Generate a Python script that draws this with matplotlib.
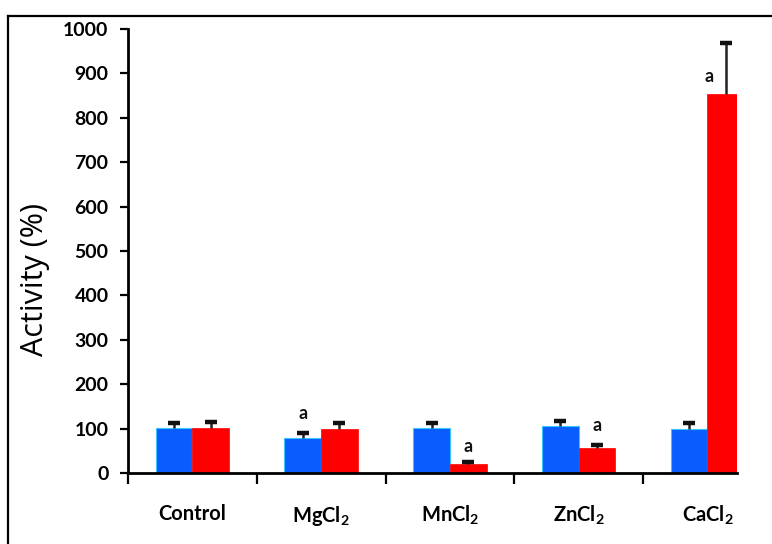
import matplotlib
matplotlib.use("Agg")
import matplotlib.pyplot as plt
from matplotlib.lines import Line2D
import numpy as np

# Data: relative activity (%) with upper error
categories = ["Control", "MgCl$_2$", "MnCl$_2$", "ZnCl$_2$", "CaCl$_2$"]
blue_vals = [101, 79, 101, 106, 99]
blue_err = [11, 11, 11, 11, 13]
red_vals = [101, 99, 20, 56, 853]
red_err = [14, 13, 5, 7, 115]
# significance marks: (category index, series, label height)
marks = [(1, "blue", 135), (2, "red", 60), (3, "red", 108), (4, "red", 893)]

plt.rcParams["font.family"] = ["Lato", "DejaVu Sans"]
plt.rcParams["mathtext.fontset"] = "custom"
plt.rcParams["mathtext.rm"] = "Lato:bold"
plt.rcParams["mathtext.it"] = "Lato:bold"
plt.rcParams["mathtext.bf"] = "Lato:bold"

fig = plt.figure(figsize=(7.72, 5.44), dpi=100)
ax = fig.add_axes([0.1658, 0.1305, 0.7889, 0.8162])

x = np.arange(len(categories))
w = 0.285
xb = x - w / 2
xr = x + w / 2
ax.bar(xb, blue_vals, w, color="#0a5cff", edgecolor="#35c8ff",
       linewidth=0.8, zorder=2)
ax.bar(xr, red_vals, w, color="#ff0000", edgecolor="#ff0000",
       linewidth=0.5, zorder=2)

# upper error bars only
for xs, vals, errs in [(xb, blue_vals, blue_err), (xr, red_vals, red_err)]:
    tops = np.array(vals) + np.array(errs)
    ax.vlines(xs, vals, tops, color="#222222", lw=1.8, zorder=3)
    ax.plot(xs, tops, ls="none", marker="_", ms=9, mew=3.2,
            color="#111111", zorder=3)

for i, series, h in marks:
    xo = xb[i] if series == "blue" else xr[i]
    if i == 4:
        xo -= 0.13
    ax.text(xo, h, "a", ha="center", va="center", fontsize=13,
            fontweight="bold", color="#111111")

ax.set_xlim(-0.5, 4.23)
ax.set_ylim(0, 1000)
ax.set_yticks(range(0, 1001, 100))
ax.set_yticklabels([str(v) for v in range(0, 1001, 100)],
                   fontsize=14, fontweight="bold")
ax.set_xticks(np.arange(-0.5, 4.0, 1.0))
ax.set_xticklabels([])
ax.set_xticks(x, minor=True)
ax.set_xticklabels(categories, minor=True, fontsize=14.5, fontweight="bold")
ax.tick_params(axis="x", which="minor", length=0, pad=22)
ax.tick_params(axis="x", which="major", length=8, width=1.6, direction="out")
ax.tick_params(axis="y", length=6, width=1.6, direction="out", pad=8)

for s in ["top", "right"]:
    ax.spines[s].set_visible(False)
for s in ["left", "bottom"]:
    ax.spines[s].set_linewidth(2)

ax.set_ylabel("Activity (%)", fontsize=22, family=["Open Sans", "DejaVu Sans"])
ax.yaxis.set_label_coords(-0.128, 0.435)

# outer frame (top and left edges)
fig.add_artist(Line2D([8 / 772, 1.0], [1 - 16 / 544, 1 - 16 / 544],
                      transform=fig.transFigure, color="black", lw=1.6))
fig.add_artist(Line2D([8 / 772, 8 / 772], [0, 1 - 16 / 544],
                      transform=fig.transFigure, color="black", lw=1.6))

fig.savefig("out.png", dpi=100)
